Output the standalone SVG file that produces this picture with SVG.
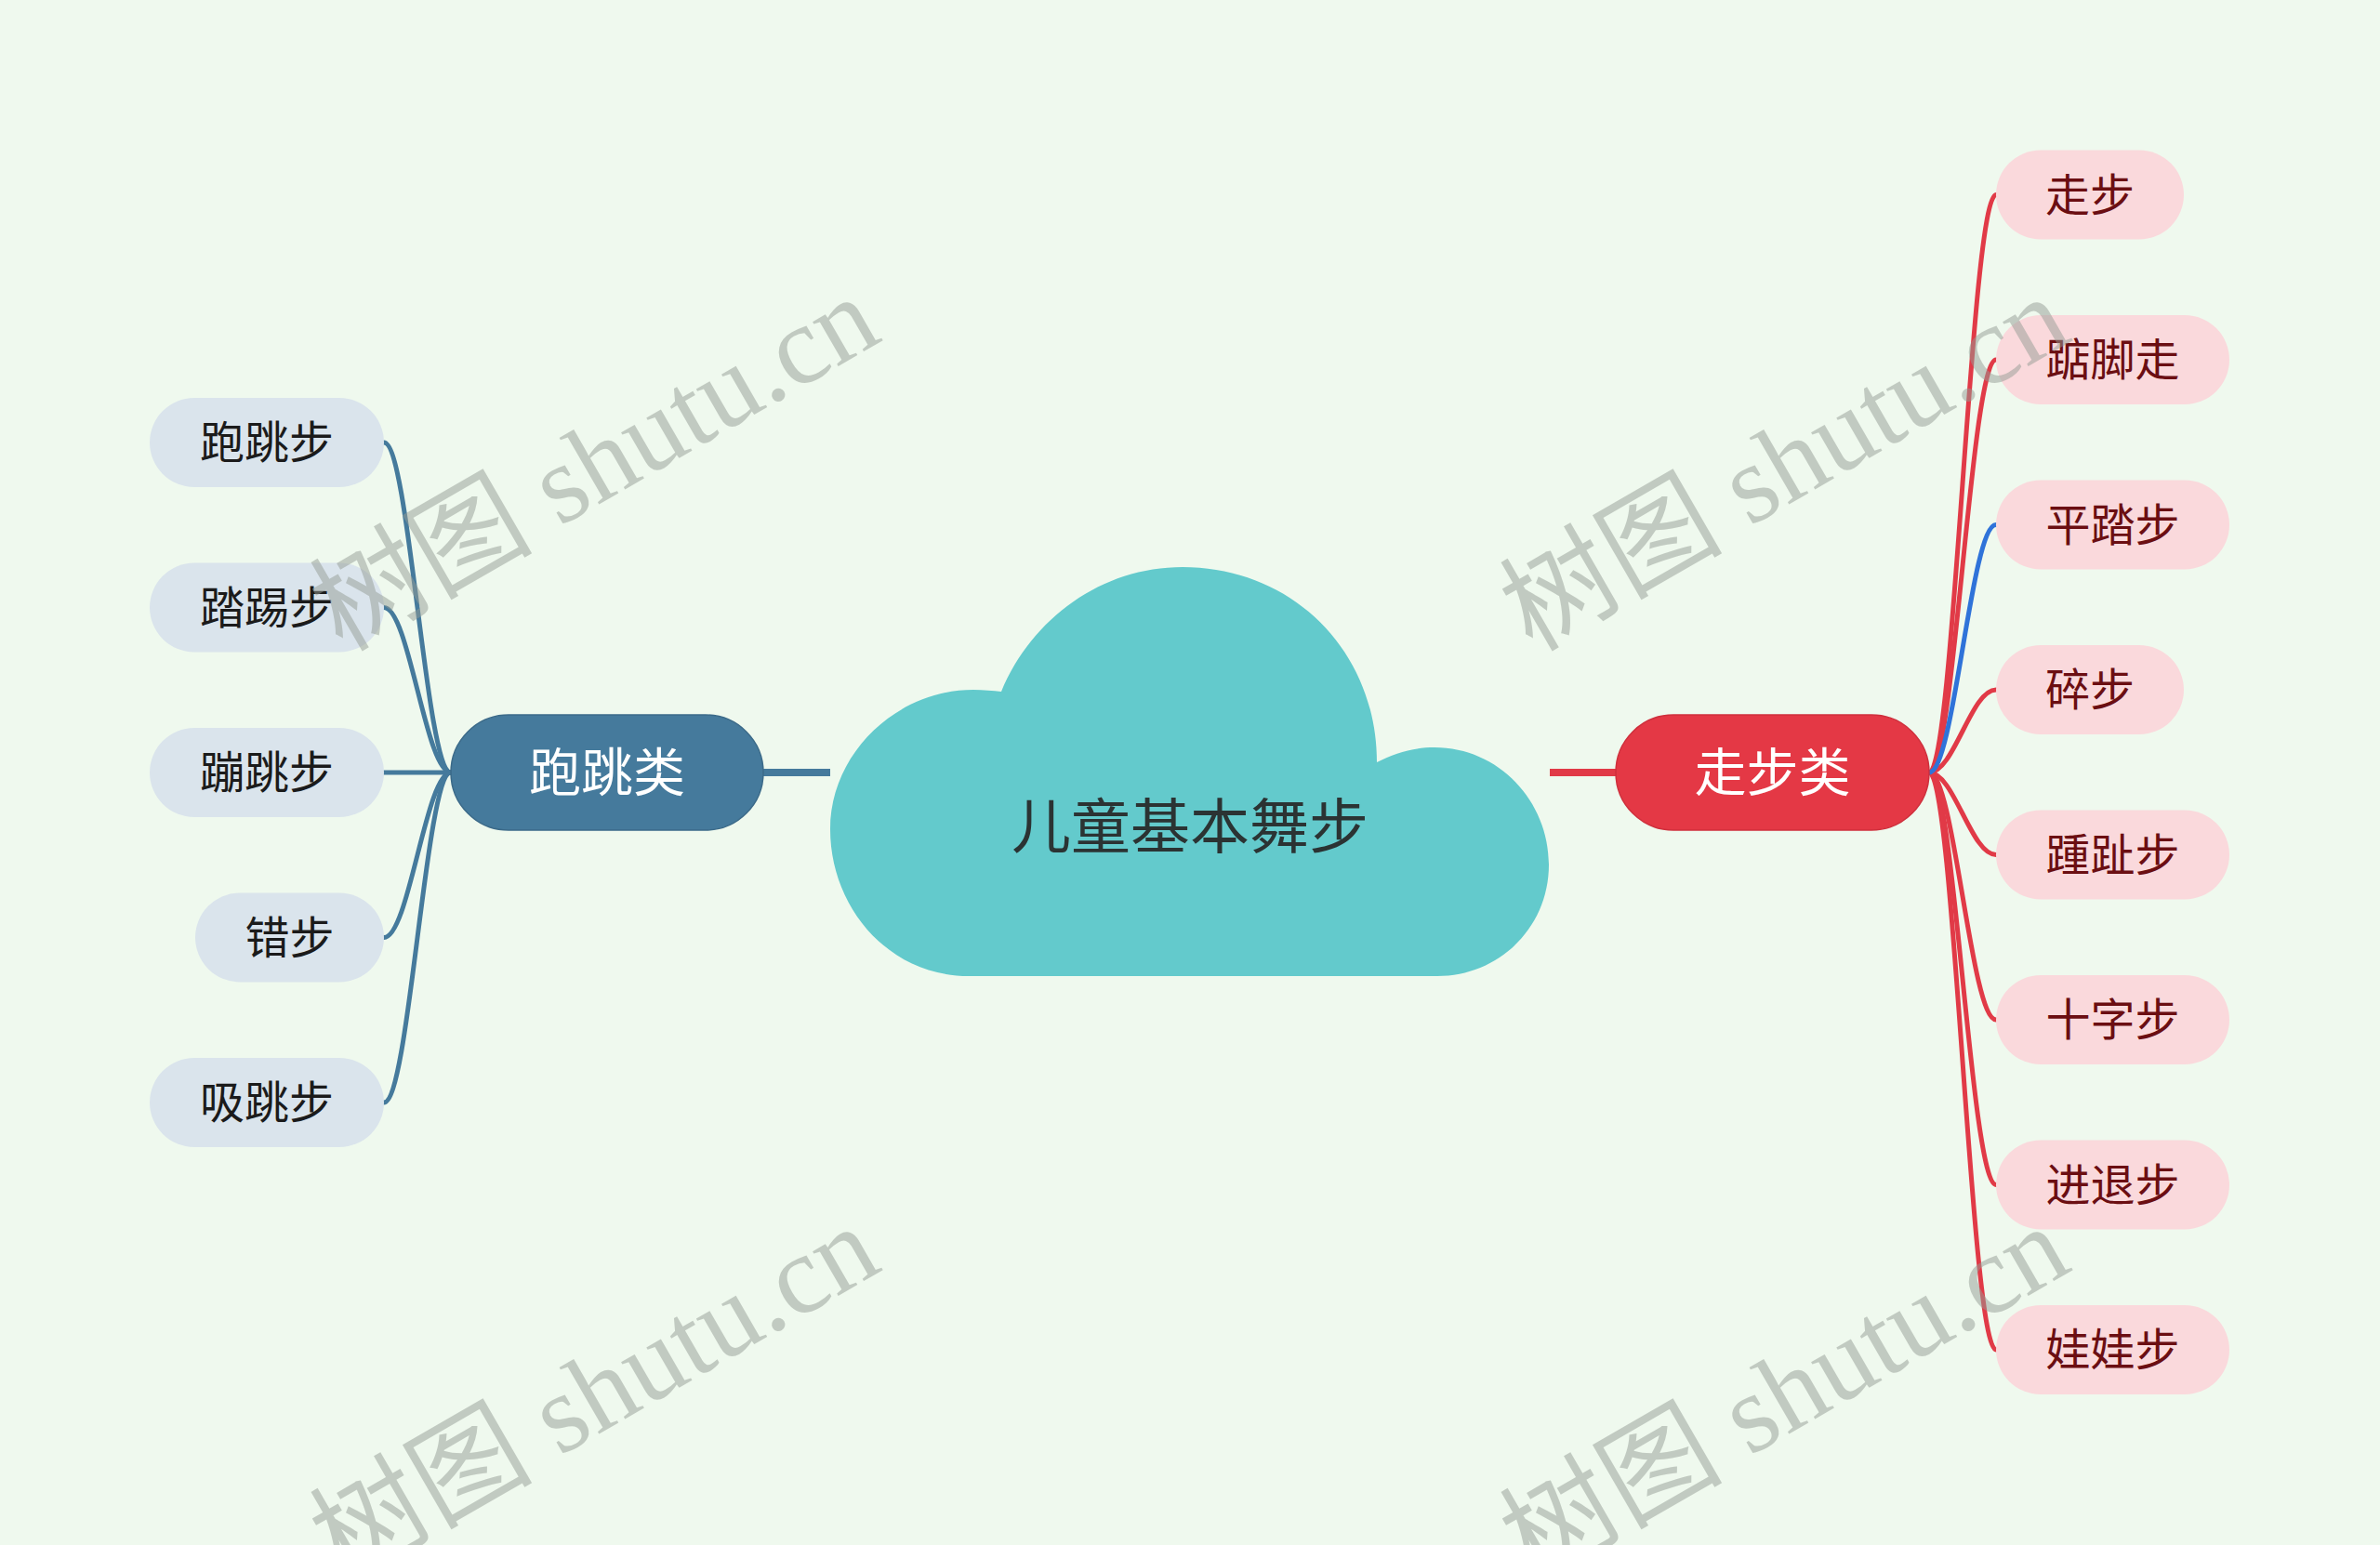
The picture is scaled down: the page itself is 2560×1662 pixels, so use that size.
<svg xmlns="http://www.w3.org/2000/svg" width="2560" height="1662" viewBox="0 0 2560 1662">
<style>
.sub{font-family:"Noto Sans CJK SC","Noto Sans",sans-serif;font-size:48px;text-anchor:middle}
.lt{fill:#1b1b1b}
.rt{fill:#6b0e12}
.cat{font-family:"Noto Sans CJK SC","Noto Sans",sans-serif;font-size:56px;fill:#ffffff;text-anchor:middle}
.lpill{fill:#dae4ec}
.rpill{fill:#fad9dc}
.lc{fill:none;stroke:#457a9c;stroke-width:5;stroke-linecap:round}
.rc{fill:none;stroke:#e13a47;stroke-width:5;stroke-linecap:round}
.hc{fill:none;stroke:#2f73d9;stroke-width:5;stroke-linecap:round}
.wm{font-family:"Liberation Serif","Noto Sans CJK SC",serif;font-size:120px;fill:#959d95;opacity:0.5}
</style>
<rect x="0" y="0" width="2560" height="1662" fill="#eff9ee"/>

<g id="connectors">
  <line x1="821" y1="831" x2="893" y2="831" stroke="#457a9c" stroke-width="8"/>
  <line x1="1667" y1="831" x2="1739" y2="831" stroke="#e13a47" stroke-width="8"/>
  <path class="lc" d="M485 831 C458 831 440 476 413 476"/>
  <path class="lc" d="M485 831 C458 831 440 653.5 413 653.5"/>
  <path class="lc" d="M485 831 L413 831"/>
  <path class="lc" d="M485 831 C458 831 440 1008.5 413 1008.5"/>
  <path class="lc" d="M485 831 C458 831 440 1186 413 1186"/>
  <path class="rc" d="M2075 831 C2102 831 2120 209.5 2147 209.5"/>
  <path class="rc" d="M2075 831 C2102 831 2120 387 2147 387"/>
  <path class="rc" d="M2075 831 C2102 831 2120 742 2147 742"/>
  <path class="rc" d="M2075 831 C2102 831 2120 919.5 2147 919.5"/>
  <path class="rc" d="M2075 831 C2102 831 2120 1097 2147 1097"/>
  <path class="rc" d="M2075 831 C2102 831 2120 1274.5 2147 1274.5"/>
  <path class="rc" d="M2075 831 C2102 831 2120 1452 2147 1452"/>
  <path class="hc" d="M2075 831 C2102 831 2120 564.5 2147 564.5"/>
</g>

<g id="root">
  <path d="M1042 1050 C955 1050 893 975 893 892 C893 810 965 742 1047 742 C1058 742 1068 743 1077 744 C1110 665 1185 610 1272 610 C1390 610 1481 700 1481 820 C1500 810 1520 804 1543 804 C1612 804 1666 862 1666 930 C1666 998 1612 1050 1546 1050 Z" fill="#63cacc"/>
  <text x="1280" y="912" font-family="'Noto Sans CJK SC','Noto Sans',sans-serif" font-size="64" fill="#2b3333" text-anchor="middle">儿童基本舞步</text>
</g>

<g id="cat-left">
  <rect x="485" y="769" width="336" height="124" rx="62" fill="#457a9c" stroke="#3b6a89" stroke-width="1.5"/>
  <text class="cat" x="653" y="851">跑跳类</text>
</g>
<g id="cat-right">
  <rect x="1738" y="769" width="337" height="124" rx="62" fill="#e43845" stroke="#cf2f3c" stroke-width="1.5"/>
  <text class="cat" x="1906.5" y="851">走步类</text>
</g>

<g id="l1"><rect class="lpill" x="161" y="428" width="252" height="96" rx="48"/><text class="sub lt" x="287" y="493">跑跳步</text></g>
<g id="l2"><rect class="lpill" x="161" y="605.5" width="252" height="96" rx="48"/><text class="sub lt" x="287" y="670.5">踏踢步</text></g>
<g id="l3"><rect class="lpill" x="161" y="783" width="252" height="96" rx="48"/><text class="sub lt" x="287" y="848">蹦跳步</text></g>
<g id="l4"><rect class="lpill" x="210" y="960.5" width="203" height="96" rx="48"/><text class="sub lt" x="311.5" y="1025.5">错步</text></g>
<g id="l5"><rect class="lpill" x="161" y="1138" width="252" height="96" rx="48"/><text class="sub lt" x="287" y="1203">吸跳步</text></g>

<g id="r1"><rect class="rpill" x="2147" y="161.5" width="202" height="96" rx="48"/><text class="sub rt" x="2248" y="226.5">走步</text></g>
<g id="r2"><rect class="rpill" x="2147" y="339" width="251" height="96" rx="48"/><text class="sub rt" x="2272.5" y="404">踮脚走</text></g>
<g id="r3"><rect class="rpill" x="2147" y="516.5" width="251" height="96" rx="48"/><text class="sub rt" x="2272.5" y="581.5">平踏步</text></g>
<g id="r4"><rect class="rpill" x="2147" y="694" width="202" height="96" rx="48"/><text class="sub rt" x="2248" y="759">碎步</text></g>
<g id="r5"><rect class="rpill" x="2147" y="871.5" width="251" height="96" rx="48"/><text class="sub rt" x="2272.5" y="936.5">踵趾步</text></g>
<g id="r6"><rect class="rpill" x="2147" y="1049" width="251" height="96" rx="48"/><text class="sub rt" x="2272.5" y="1114">十字步</text></g>
<g id="r7"><rect class="rpill" x="2147" y="1226.5" width="251" height="96" rx="48"/><text class="sub rt" x="2272.5" y="1291.5">进退步</text></g>
<g id="r8"><rect class="rpill" x="2147" y="1404" width="251" height="96" rx="48"/><text class="sub rt" x="2272.5" y="1469">娃娃步</text></g>

<g id="watermarks">
  <text class="wm" transform="translate(368,702) rotate(-30)">树图 shutu.cn</text>
  <text class="wm" transform="translate(1648,702) rotate(-30)">树图 shutu.cn</text>
  <text class="wm" transform="translate(368,1702) rotate(-30)">树图 shutu.cn</text>
  <text class="wm" transform="translate(1648,1702) rotate(-30)">树图 shutu.cn</text>
</g>
</svg>
